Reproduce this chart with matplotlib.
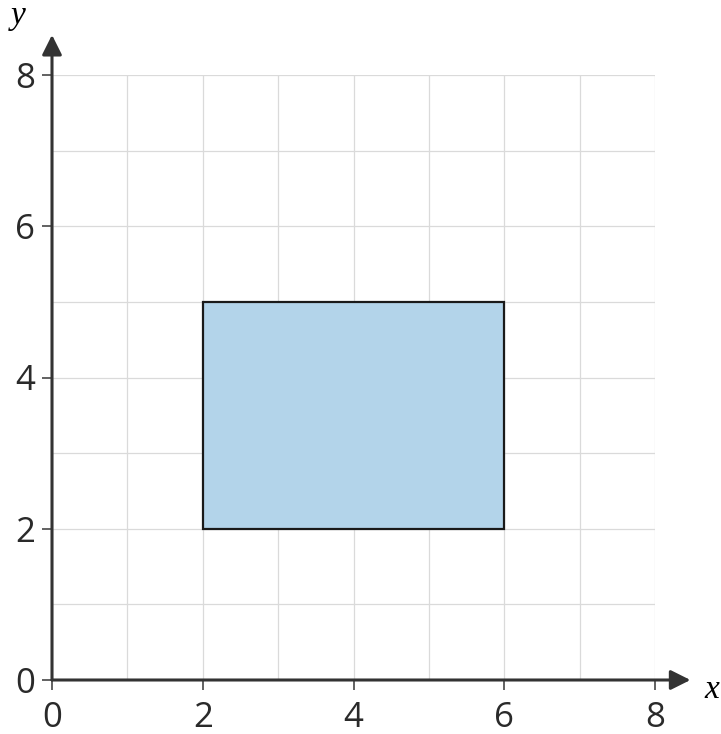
import matplotlib.pyplot as plt
from matplotlib.patches import Rectangle

# data
ticks = [0, 2, 4, 6, 8]
grid_lines = [1, 3, 5, 7]
rect_x = [2, 6]   # left, right
rect_y = [2, 5]   # bottom, top

fig = plt.figure(figsize=(7.21, 7.34), dpi=100)
ax = fig.add_axes([52 / 721, 54 / 734, 603 / 721, 605 / 734])
ax.set_xlim(0, 8)
ax.set_ylim(0, 8)

for s in ax.spines.values():
    s.set_visible(False)

ax.set_xticks(ticks)
ax.set_yticks(ticks)
ax.set_xticks(grid_lines, minor=True)
ax.set_yticks(grid_lines, minor=True)
ax.tick_params(which='major', direction='out', length=7, width=1.3, color='#555555',
               labelsize=25, labelcolor='#2a2a2a')
ax.tick_params(axis='x', which='major', pad=8)
ax.tick_params(axis='y', which='major', pad=5)
ax.tick_params(which='minor', length=0)
for lab in ax.get_xticklabels() + ax.get_yticklabels():
    lab.set_fontfamily('Open Sans')
ax.grid(True, which='both', color='#dadada', linewidth=0.9)
ax.set_axisbelow(True)

ax.add_patch(Rectangle((rect_x[0], rect_y[0]), rect_x[1] - rect_x[0], rect_y[1] - rect_y[0],
                       facecolor='#b3d4ea', edgecolor='#1a1a1a', linewidth=1.6, zorder=2))

# axes with arrow heads
arrow = dict(arrowstyle='-|>', color='#333333', linewidth=2.2, mutation_scale=30,
             shrinkA=0, shrinkB=0)
ax.annotate('', xy=(8.47, 0), xytext=(0, 0), arrowprops=arrow, annotation_clip=False, zorder=5)
ax.annotate('', xy=(0, 8.53), xytext=(0, 0), arrowprops=arrow, annotation_clip=False, zorder=5)

ax.text(8.75, -0.13, 'x', fontsize=24, fontstyle='italic', family='Liberation Serif',
        ha='center', va='center', clip_on=False)
ax.text(-0.45, 8.78, 'y', fontsize=24, fontstyle='italic', family='Liberation Serif',
        ha='center', va='center', clip_on=False)

fig.savefig('out.png', dpi=100)
